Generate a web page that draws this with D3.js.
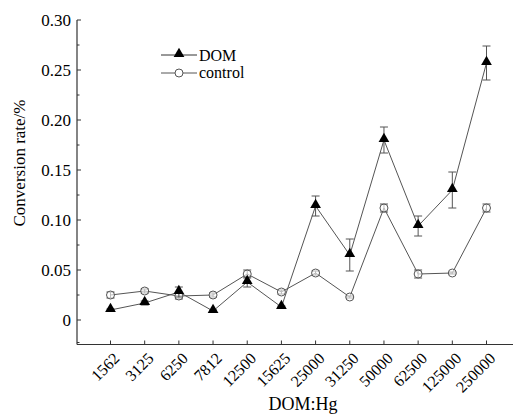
<!DOCTYPE html>
<html>
<head>
<meta charset="utf-8">
<script src="https://cdn.jsdelivr.net/npm/d3@7"></script>
<style>
   body { margin: 0; background: #fff; }
</style>
</head>
<body>
<div id="chart"></div>
<script>
"use strict";

const ratios = ["1562", "3125", "6250", "7812", "12500", "15625", "25000", "31250", "50000", "62500", "125000", "250000"];
const domValues = [0.010, 0.017, 0.028, 0.009, 0.038, 0.013, 0.114, 0.065, 0.180, 0.094, 0.130, 0.257];
const domErrors = [0.001, 0.002, 0.005, 0.001, 0.005, 0.001, 0.010, 0.016, 0.013, 0.010, 0.018, 0.017];
const controlValues = [0.025, 0.029, 0.024, 0.025, 0.046, 0.028, 0.047, 0.023, 0.112, 0.046, 0.047, 0.112];
const controlErrors = [0.003, 0.002, 0.003, 0.002, 0.004, 0.002, 0.002, 0.001, 0.004, 0.004, 0.001, 0.004];
const yTicks = [0, 0.05, 0.10, 0.15, 0.20, 0.25, 0.30];
const yTickLabels = ["0", "0.05", "0.10", "0.15", "0.20", "0.25", "0.30"];

(function () {
   const width = 513;
   const height = 414;
   const left = 77;
   const right = 513;
   const bottom = 344.5;
   const lineColour = "#555";
   const serif = "'Liberation Serif', 'Times New Roman', 'DejaVu Serif', serif";

   const svg = d3.select("#chart").append("svg")
      .attr("width", width)
      .attr("height", height)
      .style("font-family", serif);

   const x = d3.scalePoint()
      .domain(ratios)
      .range([110.5, 486.5]);

   const y = d3.scaleLinear()
      .domain([0, 0.30])
      .range([320, 20]);

   // axes lines
   svg.append("line")
      .attr("x1", left).attr("x2", left)
      .attr("y1", y(0.30)).attr("y2", bottom)
      .attr("stroke", "#333").attr("stroke-width", 1.2);
   svg.append("line")
      .attr("x1", left).attr("x2", right)
      .attr("y1", bottom).attr("y2", bottom)
      .attr("stroke", "#333").attr("stroke-width", 1.2);

   // y ticks (inward), major + minor
   const minor = d3.range(0.025, 0.30, 0.05);
   svg.selectAll(".ymaj").data(yTicks).enter().append("line")
      .attr("x1", left).attr("x2", left + 4)
      .attr("y1", d => y(d)).attr("y2", d => y(d))
      .attr("stroke", "#333");
   svg.selectAll(".ymin").data(minor).enter().append("line")
      .attr("x1", left).attr("x2", left + 2.5)
      .attr("y1", d => y(d)).attr("y2", d => y(d))
      .attr("stroke", "#333");
   svg.append("line")
      .attr("x1", left).attr("x2", left + 2.5)
      .attr("y1", y(-0.0225)).attr("y2", y(-0.0225))
      .attr("stroke", "#333");

   svg.selectAll(".ylab").data(yTicks).enter().append("text")
      .attr("x", left - 6)
      .attr("y", d => y(d))
      .attr("dy", "0.35em")
      .attr("text-anchor", "end")
      .style("font-size", "17px")
      .text((d, i) => yTickLabels[i]);

   // x ticks (inward)
   svg.selectAll(".xtick").data(ratios).enter().append("line")
      .attr("x1", d => x(d)).attr("x2", d => x(d))
      .attr("y1", bottom).attr("y2", bottom - 4)
      .attr("stroke", "#333");

   svg.selectAll(".xlab").data(ratios).enter().append("text")
      .attr("transform", d => `translate(${x(d) + 6},${bottom + 11}) rotate(-45)`)
      .attr("text-anchor", "end")
      .attr("dy", "0.35em")
      .style("font-size", "16px")
      .text(d => d);

   // axis titles
   svg.append("text")
      .attr("transform", `translate(25,163) rotate(-90)`)
      .attr("text-anchor", "middle")
      .style("font-size", "17px")
      .text("Conversion rate/%");

   svg.append("text")
      .attr("x", 303)
      .attr("y", 410)
      .attr("text-anchor", "middle")
      .style("font-size", "18px")
      .text("DOM:Hg");

   const line = d3.line()
      .x((d, i) => x(ratios[i]))
      .y(d => y(d));

   const triangle = d3.symbol().type(d3.symbolTriangle).size(50);

   function drawSeries(values, errors, isDom) {
      const g = svg.append("g");
      g.append("path")
         .attr("d", line(values))
         .attr("fill", "none")
         .attr("stroke", lineColour)
         .attr("stroke-width", 1);

      const bars = g.selectAll(".err").data(values).enter().append("g")
         .attr("stroke", lineColour)
         .attr("stroke-width", 1);
      bars.append("line")
         .attr("x1", (d, i) => x(ratios[i])).attr("x2", (d, i) => x(ratios[i]))
         .attr("y1", (d, i) => y(d + errors[i])).attr("y2", (d, i) => y(d - errors[i]));
      bars.append("line")
         .attr("x1", (d, i) => x(ratios[i]) - 4).attr("x2", (d, i) => x(ratios[i]) + 4)
         .attr("y1", (d, i) => y(d + errors[i])).attr("y2", (d, i) => y(d + errors[i]));
      bars.append("line")
         .attr("x1", (d, i) => x(ratios[i]) - 4).attr("x2", (d, i) => x(ratios[i]) + 4)
         .attr("y1", (d, i) => y(d - errors[i])).attr("y2", (d, i) => y(d - errors[i]));

      if (isDom) {
         g.selectAll(".pt").data(values).enter().append("path")
            .attr("d", triangle)
            .attr("transform", (d, i) => `translate(${x(ratios[i])},${y(d) - 1})`)
            .attr("fill", "#000");
      } else {
         g.selectAll(".pt").data(values).enter().append("circle")
            .attr("cx", (d, i) => x(ratios[i]))
            .attr("cy", d => y(d))
            .attr("r", 4)
            .attr("fill", "#fff")
            .attr("fill-opacity", 0.6)
            .attr("stroke", lineColour);
      }
   }

   drawSeries(controlValues, controlErrors, false);
   drawSeries(domValues, domErrors, true);

   // legend
   const legend = svg.append("g");
   legend.append("line")
      .attr("x1", 161).attr("x2", 197).attr("y1", 55).attr("y2", 55)
      .attr("stroke", "#333");
   legend.append("path")
      .attr("d", triangle)
      .attr("transform", "translate(179,54)")
      .attr("fill", "#000");
   legend.append("text")
      .attr("x", 199).attr("y", 61)
      .style("font-size", "16px")
      .text("DOM");
   legend.append("line")
      .attr("x1", 161).attr("x2", 197).attr("y1", 73).attr("y2", 73)
      .attr("stroke", lineColour);
   legend.append("circle")
      .attr("cx", 179).attr("cy", 73).attr("r", 4)
      .attr("fill", "#fff").attr("stroke", lineColour);
   legend.append("text")
      .attr("x", 199).attr("y", 78)
      .style("font-size", "16px")
      .text("control");
})();
</script>
</body>
</html>
